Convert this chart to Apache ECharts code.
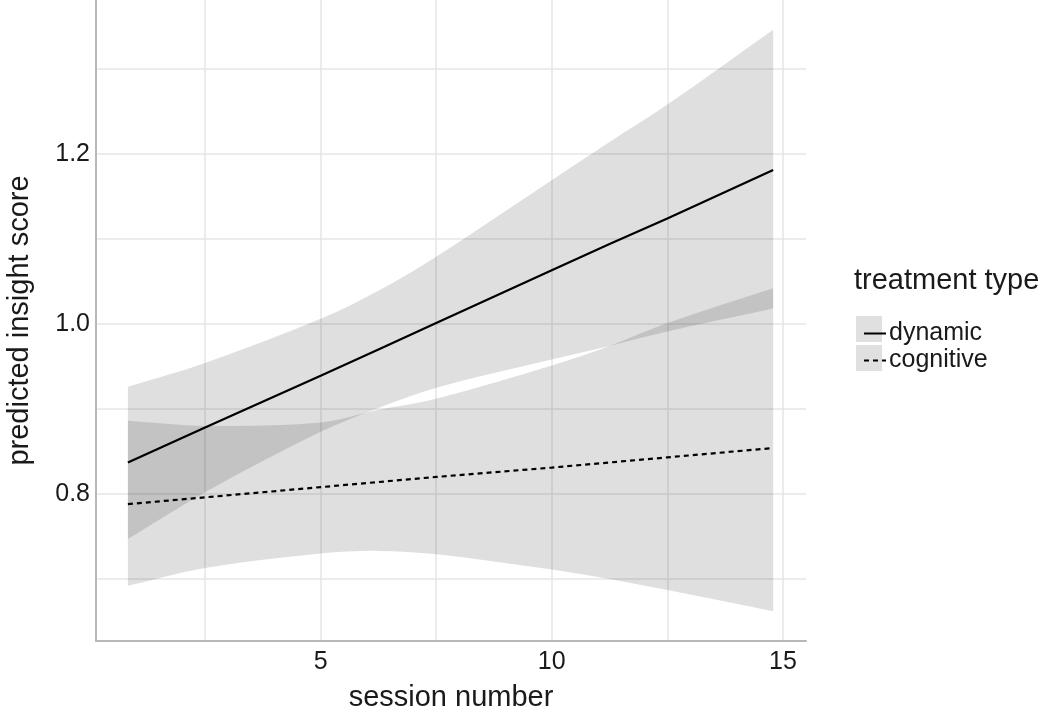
<!DOCTYPE html>
<html>
<head>
<meta charset="utf-8" />
<title>predicted insight score</title>
<script src="https://cdn.jsdelivr.net/npm/echarts@6/dist/echarts.min.js"></script>
<style>
  html, body { margin: 0; padding: 0; background: #fff; }
  #main { width: 1050px; height: 716px; }
</style>
</head>
<body>
<div id="main"></div>
<script>
var sessions = [0.83, 2.5, 5, 6.25, 7.5, 10, 11.25, 12.5, 14.79];

// fitted lines
var dynamicFit = [0.837, 0.878, 0.939, 0.970, 1.001, 1.063, 1.094, 1.124, 1.181];
var cognitiveFit = [0.788, 0.796, 0.808, 0.814, 0.820, 0.831, 0.837, 0.843, 0.854];

// confidence bands
var dynamicUpper = [0.926, 0.954, 1.006, 1.039, 1.079, 1.169, 1.214, 1.258, 1.346];
var dynamicLower = [0.747, 0.802, 0.873, 0.901, 0.925, 0.958, 0.974, 0.991, 1.018];
var cognitiveUpper = [0.886, 0.880, 0.884, 0.899, 0.912, 0.951, 0.974, 1.001, 1.042];
var cognitiveLower = [0.692, 0.713, 0.730, 0.733, 0.729, 0.711, 0.700, 0.687, 0.662];

// axis ticks
var xLabels = [5, 10, 15];
var xGrid = [2.5, 5, 7.5, 10, 12.5, 15];
var yLabels = [0.8, 1.0, 1.2];
var yGrid = [0.7, 0.8, 0.9, 1.0, 1.1, 1.2, 1.3];

function pairs(ys) {
  return sessions.map(function (x, i) { return [x, ys[i]]; });
}

// smooth curve through pixel points, tangents scaled for uneven spacing
function curveTo(p) {
  var d = '';
  for (var i = 0; i < p.length - 1; i++) {
    var a = p[i - 1] || p[i], b = p[i], c = p[i + 1], e = p[i + 2] || c;
    var seg = c[0] - b[0];
    var k1 = seg / (3 * (c[0] - a[0]));
    var k2 = seg / (3 * (e[0] - b[0]));
    var c1 = [b[0] + (c[0] - a[0]) * k1, b[1] + (c[1] - a[1]) * k1];
    var c2 = [c[0] - (e[0] - b[0]) * k2, c[1] - (e[1] - b[1]) * k2];
    d += ' C' + c1.join(' ') + ' ' + c2.join(' ') + ' ' + c.join(' ');
  }
  return d;
}

var font = 'Liberation Sans, Arial, sans-serif';
var bandFill = 'rgba(0,0,0,0.125)';

function bandSeries(name, lo, up) {
  return {
    name: name, type: 'custom', silent: true, z: 1,
    data: [[sessions[0], lo[0]]],
    renderItem: function (params, api) {
      var top = sessions.map(function (x, i) { return api.coord([x, up[i]]); });
      var bot = sessions.map(function (x, i) { return api.coord([x, lo[i]]); }).reverse();
      var d = 'M' + top[0].join(' ') + curveTo(top) +
              ' L' + bot[0].join(' ') + curveTo(bot) + ' Z';
      return { type: 'path', shape: { pathData: d }, style: { fill: bandFill } };
    }
  };
}

var chart = echarts.init(document.getElementById('main'));

var option = {
  animation: false,
  backgroundColor: '#fff',
  textStyle: { fontFamily: font },
  title: {
    text: 'treatment type', left: 849, top: 261,
    textStyle: { fontFamily: font, fontSize: 29, fontWeight: 'normal', color: '#1a1a1a' }
  },
  legend: {
    data: ['dynamic', 'cognitive'],
    orient: 'vertical', left: 858, top: 315,
    itemWidth: 22, itemHeight: 14, itemGap: 0,
    selectedMode: false,
    itemStyle: { opacity: 0 },
    textStyle: { fontFamily: font, fontSize: 25, lineHeight: 27, color: '#1a1a1a', padding: [0, 0, 0, -2] }
  },
  graphic: [
    { type: 'rect', left: 856, top: 316, z: -1, shape: { width: 26, height: 26 }, style: { fill: '#e0e0e0' } },
    { type: 'rect', left: 856, top: 345, z: -1, shape: { width: 26, height: 26 }, style: { fill: '#e0e0e0' } }
  ],
  grid: { left: 96, right: 244, top: 0, bottom: 75, outerBoundsMode: 'none', containLabel: false },
  xAxis: {
    type: 'value', min: 0.14, max: 15.5,
    name: 'session number', nameLocation: 'middle', nameGap: 42,
    nameTextStyle: { fontFamily: font, fontSize: 29, color: '#1a1a1a' },
    axisLine: { show: true, lineStyle: { color: '#b8b8b8', width: 2 } },
    axisTick: { show: false, customValues: xGrid },
    axisLabel: { customValues: xLabels, fontFamily: font, fontSize: 25, color: '#1a1a1a', margin: 9 },
    splitLine: { show: true, lineStyle: { color: '#e6e6e6', width: 1.5 } }
  },
  yAxis: {
    type: 'value', min: 0.627, max: 1.381,
    name: 'predicted insight score', nameLocation: 'middle', nameGap: 62,
    nameTextStyle: { fontFamily: font, fontSize: 29, color: '#1a1a1a' },
    axisLine: { show: true, lineStyle: { color: '#b8b8b8', width: 2 } },
    axisTick: { show: false, customValues: yGrid },
    axisLabel: {
      customValues: yLabels, fontFamily: font, fontSize: 25, color: '#1a1a1a', margin: 6,
      formatter: function (v) { return v.toFixed(1); }
    },
    splitLine: { show: true, lineStyle: { color: '#e6e6e6', width: 1.5 } }
  },
  series: [
    bandSeries('dynamic band', dynamicLower, dynamicUpper),
    bandSeries('cognitive band', cognitiveLower, cognitiveUpper),
    {
      name: 'dynamic', type: 'line', data: pairs(dynamicFit), symbol: 'none',
      lineStyle: { color: '#000', width: 2.2, type: 'solid' }, itemStyle: { color: '#000' }, z: 3
    },
    {
      name: 'cognitive', type: 'line', data: pairs(cognitiveFit), symbol: 'none',
      lineStyle: { color: '#000', width: 2.2, type: [5, 4] }, itemStyle: { color: '#000' }, z: 3
    }
  ]
};

chart.setOption(option);
</script>
</body>
</html>
